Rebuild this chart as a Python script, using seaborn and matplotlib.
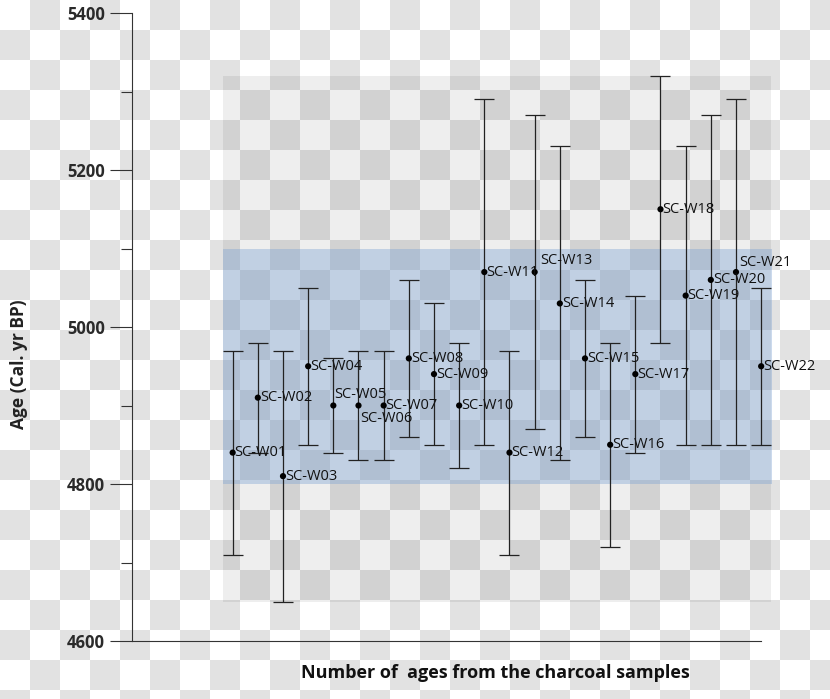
import numpy as np
import pandas as pd
import seaborn as sns
import matplotlib.pyplot as plt

# dados
amostras = ['SC-W01', 'SC-W02', 'SC-W03', 'SC-W04', 'SC-W05', 'SC-W06', 'SC-W07', 'SC-W08',
            'SC-W09', 'SC-W10', 'SC-W11', 'SC-W12', 'SC-W13', 'SC-W14', 'SC-W15', 'SC-W16',
            'SC-W17', 'SC-W18', 'SC-W19', 'SC-W20', 'SC-W21', 'SC-W22']
idade = [4840, 4910, 4810, 4950, 4900, 4900, 4900, 4960, 4940, 4900, 5070,
         4840, 5070, 5030, 4960, 4850, 4940, 5150, 5040, 5060, 5070, 4950]
limite_sup = [4970, 4980, 4970, 5050, 4960, 4970, 4970, 5060, 5030, 4980, 5290,
              4970, 5270, 5230, 5060, 4980, 5040, 5320, 5230, 5270, 5290, 5050]
limite_inf = [4710, 4840, 4650, 4850, 4840, 4830, 4830, 4860, 4850, 4820, 4850,
              4710, 4870, 4830, 4860, 4720, 4840, 4980, 4850, 4850, 4850, 4850]
faixa_total = (4650, 5320)
faixa_media = (4800, 5100)

df = pd.DataFrame({'amostra': amostras, 'idade': idade,
                   'sup': limite_sup, 'inf': limite_inf})
df['n'] = np.arange(1, len(df) + 1)

# configs visuais
sns.set_style("ticks")
plt.rcParams['font.family'] = ['Open Sans', 'DejaVu Sans']

fig = plt.figure(figsize=(8.3, 6.99), dpi=100)

# fundo quadriculado (como no png original)
H, W = 699, 830
lin, col = np.indices((H, W))
xadrez = ((lin // 30 + col // 30) % 2).astype(float)
fundo = np.where(xadrez[..., None] == 1, [0.89, 0.89, 0.89], [1.0, 1.0, 1.0])
fig.figimage(fundo, xo=0, yo=0, origin='upper', zorder=-10)
fig.patch.set_alpha(0)

ax = fig.add_axes([132 / 830, 58 / 699, 643 / 830, 628 / 699])
ax.set_facecolor('none')

x0, x1 = 0.62, 22.4
ax.fill_between([x0, x1], faixa_total[0], faixa_total[1], color='black', alpha=0.065, lw=0, zorder=1)
ax.fill_between([x0, x1 + 0.05], faixa_media[0], faixa_media[1], color='#7aa0d2', alpha=0.38, lw=0, zorder=1)

ax.errorbar(df['n'], df['idade'],
            yerr=[df['idade'] - df['inf'], df['sup'] - df['idade']],
            fmt='none', ecolor='#222222', elinewidth=0.9, capsize=7, capthick=0.9, zorder=3)
sns.scatterplot(data=df, x='n', y='idade', color='black', s=20, edgecolor='none', ax=ax, zorder=4)

# deslocamento dos rótulos (pontos)
desloc = {'SC-W05': (1, 8), 'SC-W06': (1.5, -9.5), 'SC-W13': (4, 8.5), 'SC-W21': (2, 7)}
for _, r in df.iterrows():
    dx, dy = desloc.get(r['amostra'], (1.5, 0))
    ax.annotate(r['amostra'], (r['n'], r['idade']), xytext=(dx, dy), textcoords='offset points',
                ha='left', va='center', fontsize=10.5, color='#111111', zorder=5)

ax.set_xlim(-3, 22.55)
ax.set_ylim(4600, 5400)
ax.set_xticks([])
ax.set_yticks([4600, 4800, 5000, 5200, 5400])
ax.set_yticks([4700, 4900, 5100, 5300], minor=True)
ax.tick_params(axis='y', which='major', length=15.5, width=0.8, color='#333333',
               labelsize=12, labelcolor='#2a2a2a', pad=4)
ax.tick_params(axis='y', which='minor', length=8, width=0.8, color='#333333')
for lbl in ax.get_yticklabels():
    lbl.set_fontweight('bold')

sns.despine(ax=ax)
ax.spines['left'].set_color('#333333')
ax.spines['bottom'].set_color('#333333')
ax.spines['left'].set_linewidth(0.8)
ax.spines['bottom'].set_linewidth(0.8)
ax.spines['bottom'].set_bounds(-3, 22)

ax.set_ylabel("Age (Cal. yr BP)", fontsize=12.5, fontweight='bold', color='#222222')
ax.set_xlabel("Number of  ages from the charcoal samples", fontsize=13, fontweight='bold', color='#111111')
ax.yaxis.set_label_coords(-0.162, 0.441)
ax.xaxis.set_label_coords(0.565, -0.037)

plt.savefig('out.png', dpi=100)
plt.close()
